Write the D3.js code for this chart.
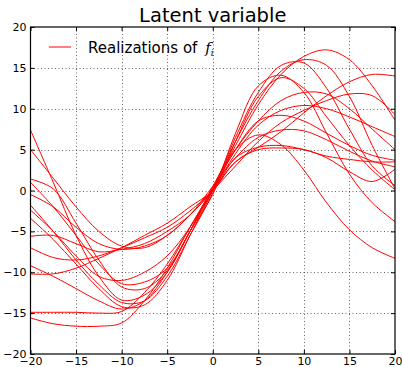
<!DOCTYPE html>
<html>
<head>
<meta charset="utf-8">
<script src="https://cdn.jsdelivr.net/npm/d3@7"></script>
<style>
  html, body { margin: 0; padding: 0; background: #fff; }
  svg { display: block; font-family: "DejaVu Sans", sans-serif; }
</style>
</head>
<body>
<svg id="chart" width="402" height="367"></svg>
<script>
const W = 402;
const H = 367;

// sample positions along x
const xSamples = [-20, -17.5, -15, -12.5, -10, -7.5, -5, -2.5, 0, 2.5, 5, 7.5, 10, 12.5, 15, 17.5, 20];

// realizations of f_i
const realization01 = [-15.6, -16.3, -16.6, -16.6, -16.2, -13.5, -9.5, -4.5, 0.3, 5.5, 10.5, 14.2, 16.4, 17.2, 16.0, 12.8, 8.6];
const realization02 = [-14.9, -14.9, -14.9, -15.0, -14.8, -12.5, -9.0, -4.5, 0.3, 6.0, 11.0, 14.6, 16.0, 15.3, 11.5, 5.5, 0.2];
const realization03 = [-3.4, -6.0, -9.0, -12.0, -14.2, -14.0, -11.0, -5.5, 0.0, 6.5, 12.0, 15.3, 15.6, 12.5, 7.5, 3.0, 0.6];
const realization04 = [-1.8, -5.0, -8.5, -11.5, -13.7, -13.5, -10.5, -5.5, -0.3, 7.0, 12.8, 14.1, 12.0, 7.0, 2.0, -1.5, -3.8];
const realization05 = [-9.2, -10.5, -12.0, -13.5, -14.5, -13.5, -10.0, -5.0, -0.5, 6.0, 11.5, 13.8, 12.5, 9.0, 5.5, 2.5, 0.1];
const realization06 = [7.4, 1.0, -5.5, -10.5, -13.4, -12.8, -10.0, -5.0, 0.3, 5.0, 8.5, 11.0, 12.0, 11.8, 10.0, 7.5, 5.0];
const realization07 = [1.4, 0.2, -4.0, -8.5, -11.8, -12.0, -9.8, -5.0, 0.0, 5.0, 8.5, 9.2, 8.5, 7.0, 5.5, 4.3, 3.7];
const realization08 = [1.0, -2.0, -5.5, -9.0, -11.4, -11.2, -9.5, -5.0, 0.5, 5.0, 6.8, 5.6, 2.5, -1.5, -4.8, -7.0, -8.3];
const realization09 = [5.0, 1.5, -2.0, -5.0, -6.8, -7.0, -5.5, -3.0, 0.0, 3.5, 5.0, 5.2, 5.0, 4.0, 2.3, 1.1, 2.6];
const realization10 = [-0.5, -2.0, -4.5, -6.5, -7.2, -6.8, -5.5, -3.0, 0.5, 4.0, 6.5, 7.4, 7.3, 6.2, 4.8, 3.6, 2.9];
const realization11 = [-2.4, -5.0, -8.0, -10.5, -11.0, -10.0, -8.0, -4.5, 0.0, 4.5, 8.0, 9.8, 10.4, 10.0, 9.0, 7.8, 6.6];
const realization12 = [-5.6, -5.5, -6.5, -7.5, -7.2, -6.5, -5.0, -3.0, 0.0, 3.0, 6.0, 8.3, 9.8, 11.0, 11.8, 11.6, 9.3];
const realization13 = [-7.0, -8.2, -8.5, -8.0, -7.0, -5.8, -4.5, -2.5, 0.0, 3.5, 5.3, 7.2, 9.5, 11.6, 13.3, 14.2, 14.0];
const realization14 = [-10.2, -10.2, -9.5, -8.3, -7.0, -5.5, -4.0, -2.0, 0.0, 4.0, 5.3, 5.5, 5.0, 4.2, 3.8, 3.5, 3.5];

const realizations = [
  realization01, realization02, realization03, realization04, realization05,
  realization06, realization07, realization08, realization09, realization10,
  realization11, realization12, realization13, realization14
];

const xTicks = [-20, -15, -10, -5, 0, 5, 10, 15, 20];
const yTicks = [-20, -15, -10, -5, 0, 5, 10, 15, 20];

const titleText = "Latent variable";
const legendText = "Realizations of ";

const svg = d3.select("#chart");
const x = d3.scaleLinear().domain([-20, 20]).range([30.5, 395]);
const y = d3.scaleLinear().domain([-20, 20]).range([354, 27]);
const [x0, x1] = x.range();
const [y0, y1] = y.range();

svg.append("defs").append("clipPath").attr("id", "plot-clip")
  .append("rect").attr("x", x0).attr("y", y1).attr("width", x1 - x0).attr("height", y0 - y1);

// dotted grid
const grid = svg.append("g").attr("stroke", "#000").attr("stroke-width", 0.6).attr("stroke-dasharray", "1,2.5");
grid.selectAll(".gx").data(xTicks.slice(1, -1)).enter().append("line")
  .attr("x1", (d) => Math.round(x(d)) + 0.5).attr("x2", (d) => Math.round(x(d)) + 0.5)
  .attr("y1", y1).attr("y2", y0);
grid.selectAll(".gy").data(yTicks.slice(1, -1)).enter().append("line")
  .attr("y1", (d) => Math.round(y(d)) + 0.5).attr("y2", (d) => Math.round(y(d)) + 0.5)
  .attr("x1", x0).attr("x2", x1);

// curves
const line = d3.line()
  .x((d) => x(d[0]))
  .y((d) => y(d[1]))
  .curve(d3.curveCatmullRom.alpha(0.5));

svg.append("g").attr("clip-path", "url(#plot-clip)")
  .selectAll("path").data(realizations).enter().append("path")
  .attr("d", (values) => line(values.map((v, i) => [xSamples[i], v])))
  .attr("fill", "none").attr("stroke", "#ff0000").attr("stroke-width", 1);

// axes with inward ticks
const fmt = d3.format("d");
const styleAxis = (g) => {
  g.select(".domain").remove();
  g.selectAll(".tick line").attr("stroke", "#000");
  g.selectAll(".tick text").attr("fill", "#000").attr("font-size", 11).attr("font-family", "DejaVu Sans");
};

svg.append("g").attr("transform", `translate(0,${y0})`)
  .call(d3.axisBottom(x).tickValues(xTicks).tickFormat(fmt).tickSize(-4).tickPadding(3))
  .call(styleAxis);
svg.append("g").attr("transform", `translate(0,${y1})`)
  .call(d3.axisTop(x).tickValues(xTicks).tickFormat("").tickSize(-4))
  .call(styleAxis);
svg.append("g").attr("transform", `translate(${x0},0)`)
  .call(d3.axisLeft(y).tickValues(yTicks).tickFormat(fmt).tickSize(-4).tickPadding(4))
  .call(styleAxis);
svg.append("g").attr("transform", `translate(${x1},0)`)
  .call(d3.axisRight(y).tickValues(yTicks).tickFormat("").tickSize(-4))
  .call(styleAxis);

// frame
svg.append("rect").attr("x", x0).attr("y", y1).attr("width", x1 - x0).attr("height", y0 - y1)
  .attr("fill", "none").attr("stroke", "#000").attr("stroke-width", 1.2);

// title
svg.append("text").attr("x", (x0 + x1) / 2).attr("y", 22).attr("text-anchor", "middle")
  .attr("font-size", 19.5).attr("fill", "#000").text(titleText);

// legend
svg.append("line").attr("x1", 49).attr("x2", 71).attr("y1", 47).attr("y2", 47)
  .attr("stroke", "#ff0000").attr("stroke-width", 1);
const legend = svg.append("text").attr("x", 88).attr("y", 52.5).attr("font-size", 15).attr("fill", "#000");
legend.append("tspan").text(legendText);
legend.append("tspan").attr("font-family", "DejaVu Serif").attr("font-style", "italic").attr("dx", 3).text("f");
legend.append("tspan").attr("font-family", "DejaVu Serif").attr("font-style", "italic")
  .attr("font-size", 9).attr("dx", 0).attr("dy", 3).text("i");
</script>
</body>
</html>
